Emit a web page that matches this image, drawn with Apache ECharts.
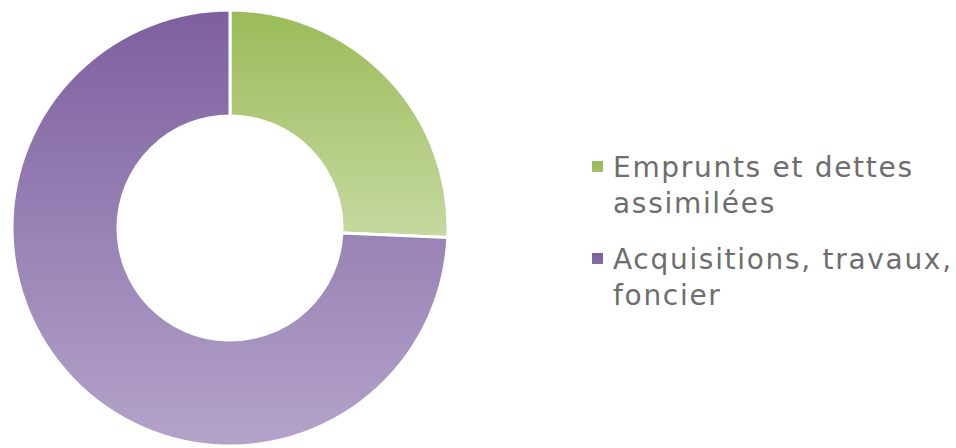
<!DOCTYPE html>
<html>
<head>
<meta charset="utf-8">
<script src="https://cdn.jsdelivr.net/npm/echarts@6/dist/echarts.min.js"></script>
<style>
html,body{margin:0;padding:0;background:#fff;}
#main{width:956px;height:448px;}
#main svg text{letter-spacing:1.7px;}
</style>
</head>
<body>
<div id="main"></div>
<script>
let categories = ['Emprunts et dettes\nassimilées', 'Acquisitions, travaux,\nfoncier'];
let values = [25.7, 74.3];
let topColors = ['#9bbb59', '#7e5fa0'];
let bottomColors = ['#c6d9a0', '#b3a3c9'];

// petit carré en haut d'une boîte de la hauteur des deux lignes
let legendIcon = 'path://M0,0L0,0 M16,0L16,0 M0,12L11,12L11,23L0,23Z M0,72L0,72';

let myChart = echarts.init(document.getElementById('main'), null, { renderer: 'svg' });
let data = categories.map(function (name, i) {
	return {
		name: name,
		value: values[i],
		itemStyle: {
			color: new echarts.graphic.LinearGradient(0, 0, 0, 1, [
				{ offset: 0, color: topColors[i] },
				{ offset: 1, color: bottomColors[i] }
			])
		}
	};
});
let option = {
	animation: false,
	legend: {
		orient: 'vertical',
		left: 587,
		top: 144,
		itemWidth: 16,
		itemHeight: 72,
		itemGap: 20,
		icon: legendIcon,
		itemStyle: { borderWidth: 0 },
		textStyle: {
			fontFamily: 'DejaVu Sans',
			fontSize: 28,
			color: '#6d6d6d',
			lineHeight: 36
		},
		data: categories
	},
	series: [{
		type: 'pie',
		center: [230, 228],
		radius: [112, 218],
		startAngle: 90,
		clockwise: true,
		label: { show: false },
		labelLine: { show: false },
		itemStyle: { borderColor: '#fff', borderWidth: 3 },
		data: data
	}]
};
myChart.setOption(option, true);
</script>
</body>
</html>
